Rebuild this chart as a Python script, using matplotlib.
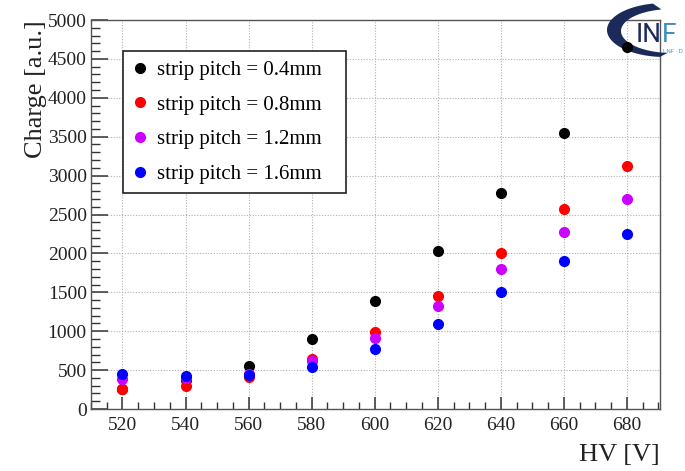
import matplotlib
matplotlib.use("Agg")
import matplotlib.pyplot as plt
import numpy as np
from matplotlib.patches import Polygon
from matplotlib.ticker import MultipleLocator

# HV scan, charge per strip pitch
hv = [520, 540, 560, 580, 600, 620, 640, 660, 680]
charge_04 = [253, 373, 557, 896, 1388, 2027, 2776, 3544, 4657]
charge_08 = [257, 296, 415, 639, 986, 1452, 2005, 2567, 3119]
charge_12 = [390, 394, 450, 617, 917, 1324, 1796, 2271, 2699]
charge_16 = [450, 428, 433, 544, 771, 1093, 1508, 1898, 2253]

labels = ['strip pitch = 0.4mm', 'strip pitch = 0.8mm',
          'strip pitch = 1.2mm', 'strip pitch = 1.6mm']
colors = ['black', '#ff0000', '#cc00ff', '#0000ff']

plt.rcParams['font.family'] = ['Liberation Serif', 'DejaVu Serif']

W, H = 685, 471
fig = plt.figure(figsize=(W / 100, H / 100), dpi=100)
fig.patch.set_facecolor('white')
ax = fig.add_axes([0.1328, 0.1316, 0.8307, 0.8259])

for ys, c, lab in zip([charge_04, charge_08, charge_12, charge_16], colors, labels):
    ax.plot(hv, ys, 'o', color=c, ms=7, mec=c, label=lab, zorder=4, clip_on=False)

ax.set_xlim(510, 690.5)
ax.set_ylim(0, 5000)
ax.xaxis.set_major_locator(MultipleLocator(20))
ax.xaxis.set_minor_locator(MultipleLocator(5))
ax.yaxis.set_major_locator(MultipleLocator(500))
ax.yaxis.set_minor_locator(MultipleLocator(100))

ax.grid(True, which='major', color='#b0b0b0', linestyle=(0, (1, 1.5)), linewidth=0.8)
ax.tick_params(axis='both', which='both', direction='in', colors='#333333',
               labelcolor='#222222', labelsize=14, top=False, right=False)
ax.tick_params(axis='y', which='major', length=12, width=1.1, pad=3)
ax.tick_params(axis='y', which='minor', length=6.5, width=1.0)
ax.tick_params(axis='x', which='major', length=9, width=1.1, pad=6)
ax.tick_params(axis='x', which='minor', length=5, width=1.0)
for s in ax.spines.values():
    s.set_color('#555555')
    s.set_linewidth(1.0)

ax.set_xlabel('HV [V]', fontsize=19, color='#222222')
ax.xaxis.set_label_coords(1.0, -0.09)
ax.xaxis.label.set_horizontalalignment('right')
ax.set_ylabel('Charge [a.u.]', fontsize=19, color='#222222')
ax.yaxis.set_label_coords(-0.078, 1.0)
ax.yaxis.label.set_horizontalalignment('right')

# ROOT-style legend box, fixed width
leg = ax.legend(loc='upper left', bbox_to_anchor=(0.0562, 0.920, 0.392, 0.0),
                mode='expand', fontsize=15,
                frameon=True, fancybox=False, edgecolor='#222222', framealpha=1,
                borderaxespad=0, handletextpad=0.5, labelspacing=0.72, borderpad=0.45,
                handlelength=0.7, numpoints=1)
leg.get_frame().set_linewidth(1.2)

# INFN logo (approximate), crescent + lettering in figure pixels
t = np.radians(np.linspace(95, 258, 80))
outer = np.column_stack([665 + 58 * np.cos(t), 30 + 27 * np.sin(t)])
inner = np.column_stack([672 + 51 * np.cos(t[::-1]), 31 + 22 * np.sin(t[::-1])])
crescent = np.vstack([outer, inner])
crescent[:, 0] /= W
crescent[:, 1] = 1 - crescent[:, 1] / H
logo = Polygon(crescent, closed=True, transform=fig.transFigure, facecolor='#1b2a5a',
               edgecolor='none', zorder=3, clip_on=False)
ax.add_artist(logo)
ax.text(636 / W, 1 - 42 / H, 'IN', transform=fig.transFigure, fontsize=19,
        family='Roboto', color='#1b2a5a', ha='left', va='baseline', zorder=3, clip_on=False)
ax.text(662 / W, 1 - 42 / H, 'F', transform=fig.transFigure, fontsize=19,
        family='Roboto', color='#3c8dbd', ha='left', va='baseline', zorder=3, clip_on=False)
ax.text(663 / W, 1 - 53 / H, 'LNF · D', transform=fig.transFigure, fontsize=4.5,
        family='Roboto', color='#3c9dc0', ha='left', va='baseline', zorder=3, clip_on=False)

fig.savefig('out.png', dpi=100, facecolor='white')
